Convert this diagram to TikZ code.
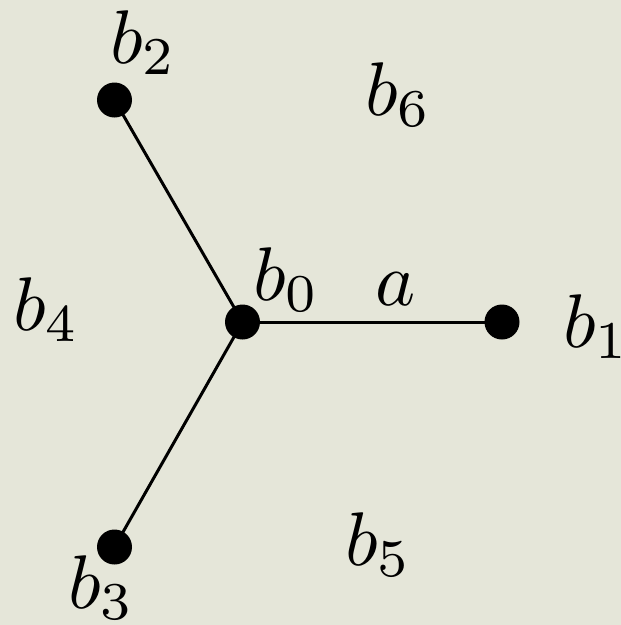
\documentclass[tikz,border=0pt]{standalone}
\usepackage{graphicx}
\definecolor{paper}{RGB}{229,230,217}
\newcommand{\labtxt}[1]{\scalebox{7.6}{$#1$}}
\begin{document}
\begin{tikzpicture}[x=1pt,y=-1pt,
  dot/.style={circle,fill=black,inner sep=0pt,minimum size=35pt},
  edge/.style={line width=3pt,black},
  lab/.style={anchor=base west,inner sep=0pt}]
\fill[paper] (0,0) rectangle (621,625);
\useasboundingbox (0,0) rectangle (621,625);
\node[dot] (v0) at (242.5,322) {};
\node[dot] (v1) at (502,322) {};
\node[dot] (v2) at (114.5,100) {};
\node[dot] (v3) at (114.5,547) {};
\draw[edge] (v0.center) -- (v1.center);
\draw[edge] (v0.center) -- (v2.center);
\draw[edge] (v0.center) -- (v3.center);
\node[lab] (l2) at (110,63) {\labtxt{b_2}};
\node[lab] (l6) at (365,115) {\labtxt{b_6}};
\node[lab] (l0) at (253,300) {\labtxt{b_0}};
\node[lab] (la) at (375,305) {\labtxt{a}};
\node[lab] (l1) at (563,347) {\labtxt{b_1}};
\node[lab] (l4) at (13,330) {\labtxt{b_4}};
\node[lab] (l3) at (68,608) {\labtxt{b_3}};
\node[lab] (l5) at (345,565) {\labtxt{b_5}};
\end{tikzpicture}
\end{document}
